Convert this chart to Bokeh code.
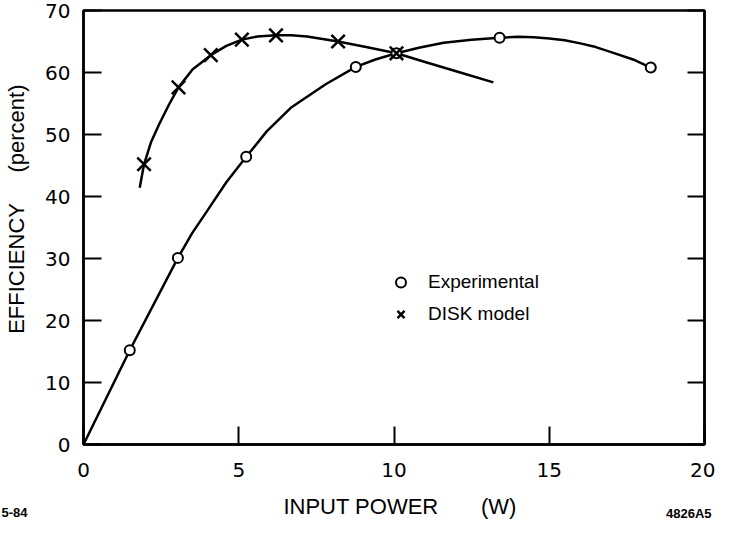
from bokeh.plotting import figure
from bokeh.models import Range1d, LinearAxis, Legend, LegendItem, FixedTicker, Title
from bokeh.embed import file_html
from bokeh.resources import INLINE

# Data
exp_x = [1.49, 3.04, 5.24, 8.77, 10.08, 13.4, 18.27]
exp_y = [15.2, 30.1, 46.4, 60.9, 63.1, 65.6, 60.8]
disk_x = [1.95, 3.06, 4.1, 5.1, 6.2, 8.2, 10.08]
disk_y = [45.2, 57.6, 62.8, 65.3, 66.0, 65.0, 63.1]

# traced smooth curves
exp_curve_x = [0.0, 1.49, 3.04, 3.5, 4.0, 4.6, 5.24, 5.9, 6.7, 7.8, 8.77, 9.4, 10.08, 10.8, 11.6, 12.5, 13.4,
               14.0, 14.5, 15.0, 15.5, 16.0, 16.5, 17.04, 17.7, 18.27]
exp_curve_y = [0.0, 15.2, 30.1, 34.1, 37.8, 42.3, 46.4, 50.5, 54.4, 58.1, 60.9, 62.1, 63.1, 64.0, 64.8, 65.3, 65.6,
               65.75, 65.7, 65.5, 65.2, 64.7, 64.1, 63.2, 62.1, 60.8]
disk_curve_x = [1.81, 1.95, 2.17, 2.44, 2.75, 3.06, 3.51, 4.1, 4.6, 5.1, 5.6, 6.2, 6.7, 7.2, 7.7, 8.2, 9.1,
                10.08, 11.0, 12.0, 13.2]
disk_curve_y = [41.4, 45.2, 48.7, 51.7, 54.8, 57.6, 60.5, 62.8, 64.3, 65.3, 65.8, 66.0, 66.0, 65.8, 65.4, 65.0,
                64.1, 63.1, 61.7, 60.2, 58.4]

x_ticks = [0, 5, 10, 15, 20]
y_ticks = [0, 10, 20, 30, 40, 50, 60, 70]

x_title = "INPUT POWER"
x_unit = "(W)"
y_title = "EFFICIENCY"
y_unit = "(percent)"
left_note = "5-84"
right_note = "4826A5"

TICK_FONT = "DejaVu Sans"
LABEL_FONT = "Liberation Sans"
NB = "\u00a0"

p = figure(width=715, height=520, output_backend="svg", toolbar_location=None,
           x_range=Range1d(0, 20), y_range=Range1d(0, 70),
           min_border_left=83, min_border_right=11, min_border_top=10, min_border_bottom=76)
p.grid.visible = False
p.outline_line_color = "black"
p.outline_line_width = 2.5
p.background_fill_color = "white"
p.border_fill_color = "white"

for ax in (p.xaxis[0], p.yaxis[0]):
    ax.axis_line_width = 2.5
    ax.axis_line_color = "black"
    ax.major_tick_in = 18
    ax.major_tick_out = 0
    ax.major_tick_line_width = 2
    ax.minor_tick_line_color = None
    ax.major_label_text_font = TICK_FONT
    ax.major_label_text_font_size = "20px"
    ax.major_label_text_color = "black"
    ax.axis_label_text_font = LABEL_FONT
    ax.axis_label_text_font_style = "normal"
    ax.axis_label_text_color = "black"
p.xaxis[0].ticker = FixedTicker(ticks=x_ticks)
p.yaxis[0].ticker = FixedTicker(ticks=y_ticks)
p.xaxis[0].major_label_standoff = 18
p.yaxis[0].major_label_standoff = 13

# x axis: spacer label keeps room for the title below it
p.xaxis[0].axis_label = NB
p.xaxis[0].axis_label_text_font_size = "10px"
p.xaxis[0].axis_label_standoff = 6

p.yaxis[0].axis_label = NB * 6 + y_title + NB * 5 + y_unit
p.yaxis[0].axis_label_text_font_size = "22px"
p.yaxis[0].axis_label_standoff = 13

right = LinearAxis(ticker=FixedTicker(ticks=y_ticks))
right.axis_line_width = 2.5
right.major_tick_in = 17
right.major_tick_out = 0
right.major_tick_line_width = 2
right.minor_tick_line_color = None
right.major_label_text_font_size = "0px"
right.major_label_standoff = 0
p.add_layout(right, "right")

# curves
p.line(exp_curve_x, exp_curve_y, line_color="black", line_width=2.5)
p.line(disk_curve_x, disk_curve_y, line_color="black", line_width=2.5)
r_exp = p.scatter(exp_x, exp_y, marker="circle", size=10, fill_color="white",
                  line_color="black", line_width=2)
r_disk = p.scatter(disk_x, disk_y, marker="x", size=19, line_color="black", line_width=2.5)

legend = Legend(items=[LegendItem(label="Experimental", renderers=[r_exp]),
                       LegendItem(label="DISK model", renderers=[r_disk])],
                location=(305, 117), border_line_alpha=0, background_fill_alpha=0,
                label_text_font=LABEL_FONT, label_text_font_size="19px", label_text_color="black",
                glyph_width=25, glyph_height=26, label_standoff=15, spacing=6,
                padding=0, margin=0)
p.add_layout(legend, "center")

# x axis title
p.add_layout(Title(text=NB * 2 + x_title + NB * 7 + x_unit, align="center", standoff=-14,
                   vertical_align="middle", text_font=LABEL_FONT, text_font_size="22px",
                   text_font_style="normal", text_color="black"), "below")

# corner notes
p.add_layout(Title(text=left_note, align="left", offset=-82, standoff=-15, vertical_align="middle",
                   text_font=LABEL_FONT, text_font_size="13px", text_font_style="bold",
                   text_color="black"), "below")
p.add_layout(Title(text=right_note, align="right", offset=-7, standoff=-15, vertical_align="middle",
                   text_font=LABEL_FONT, text_font_size="13px", text_font_style="bold",
                   text_color="black"), "below")

open("out.html", "w").write(file_html(p, INLINE))
